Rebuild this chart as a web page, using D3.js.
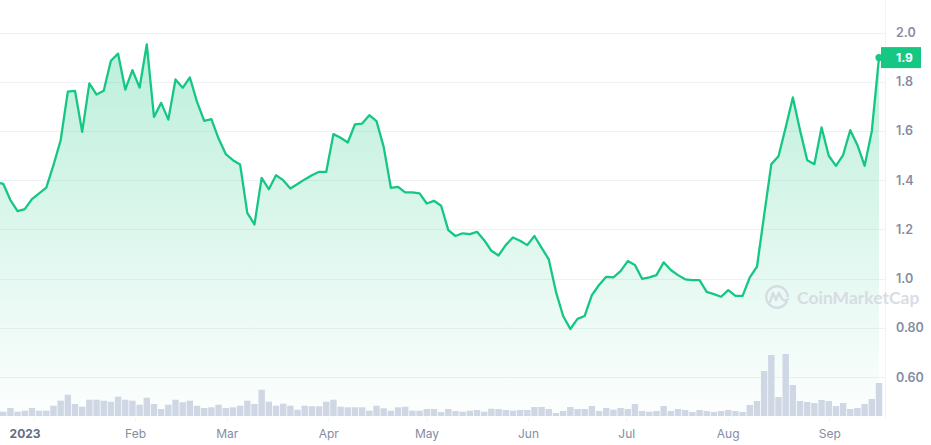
<!DOCTYPE html>
<html>
<head>
<meta charset="utf-8">
<script src="https://cdn.jsdelivr.net/npm/d3@7/dist/d3.min.js"></script>
<style>
  html, body { margin: 0; padding: 0; background: #fff; }
  svg { display: block; }
</style>
</head>
<body>
<svg id="chart" width="931" height="445"></svg>
<script>
// ---------------- DATA ----------------
const firstDate = new Date(2022, 11, 20, 13);
const lastDate = new Date(2023, 8, 16, 5);

const prices = [
  1.392,
  1.385, 1.319, 1.274, 1.282, 1.323, 1.346, 1.370, 1.461, 1.562, 1.760,
  1.763, 1.596, 1.793, 1.748, 1.763, 1.885, 1.914, 1.768, 1.847, 1.776,
  1.952, 1.657, 1.714, 1.646, 1.809, 1.775, 1.817, 1.718, 1.641, 1.648,
  1.569, 1.506, 1.481, 1.464, 1.267, 1.220, 1.409, 1.363, 1.420, 1.400,
  1.366, 1.384, 1.403, 1.420, 1.434, 1.434, 1.587, 1.572, 1.553, 1.627,
  1.630, 1.664, 1.640, 1.535, 1.369, 1.373, 1.350, 1.350, 1.346, 1.305,
  1.316, 1.296, 1.197, 1.173, 1.184, 1.181, 1.190, 1.156, 1.113, 1.094,
  1.136, 1.167, 1.154, 1.136, 1.173, 1.125, 1.078, 0.946, 0.848, 0.795,
  0.836, 0.848, 0.933, 0.974, 1.007, 1.005, 1.030, 1.071, 1.055, 0.999,
  1.005, 1.014, 1.066, 1.035, 1.014, 0.997, 0.994, 0.994, 0.946, 0.937,
  0.926, 0.953, 0.930, 0.930, 1.005, 1.048, 1.258, 1.465, 1.497, 1.614,
  1.736, 1.603, 1.481, 1.465, 1.614, 1.499, 1.458, 1.502, 1.603, 1.542,
  1.458, 1.600, 1.898
];

// volume (millions USD, approximate)
const volumes = [
  5.0,
  4.3, 8.0, 4.3, 5.3, 8.0, 5.3, 5.3, 10.3, 15.3, 21.3,
  12.0, 9.3, 16.3, 16.3, 15.3, 14.3, 19.3, 16.3, 15.3, 11.3,
  18.3, 12.0, 7.0, 11.3, 16.3, 13.7, 15.3, 10.3, 8.0, 8.7,
  11.3, 8.0, 8.7, 10.3, 15.3, 12.0, 26.3, 14.3, 10.3, 12.3,
  10.3, 6.3, 10.3, 9.7, 9.7, 14.3, 16.3, 9.3, 8.7, 8.7,
  8.7, 5.3, 10.3, 7.7, 5.3, 8.7, 9.3, 5.3, 5.3, 7.0,
  7.0, 4.0, 7.0, 5.0, 4.3, 5.3, 6.0, 4.3, 7.3, 7.0,
  6.0, 5.3, 6.0, 6.0, 9.0, 9.0, 7.0, 3.0, 5.0, 9.0,
  7.0, 7.0, 10.0, 5.0, 8.0, 6.3, 8.0, 7.0, 12.0, 5.0,
  4.3, 5.0, 10.0, 5.0, 7.0, 6.0, 4.0, 6.0, 5.0, 4.0,
  5.0, 6.0, 5.0, 4.0, 11.0, 15.0, 45.0, 61.0, 19.0, 62.0,
  31.0, 15.0, 14.0, 13.0, 16.0, 15.0, 10.0, 13.0, 7.0, 8.0,
  12.0, 17.0, 33.0
];

const priceTicks = [0.6, 0.8, 1.0, 1.2, 1.4, 1.6, 1.8, 2.0];
const priceTickLabels = ["0.60", "0.80", "1.0", "1.2", "1.4", "1.6", "1.8", "2.0"];
const monthTicks = [
  new Date(2023, 0, 1), new Date(2023, 1, 1), new Date(2023, 2, 1),
  new Date(2023, 3, 1), new Date(2023, 4, 1), new Date(2023, 5, 1),
  new Date(2023, 6, 1), new Date(2023, 7, 1), new Date(2023, 8, 1)
];
const monthLabels = ["2023", "Feb", "Mar", "Apr", "May", "Jun", "Jul", "Aug", "Sep"];
const currentLabel = "1.9";
const watermarkText = "CoinMarketCap";

// ---------------- LAYOUT ----------------
const W = 931, H = 445;
const plotLeft = 0, plotRight = 879, plotBottom = 418, gridRight = 885;
const green = "#16c784";

const step = (lastDate - firstDate) / (prices.length - 1);
const data = prices.map((p, i) => ({
  date: new Date(+firstDate + i * step),
  price: p,
  vol: volumes[i]
}));

const x = d3.scaleTime()
  .domain([new Date(2022, 11, 21, 18), lastDate])
  .range([plotLeft, plotRight]);
const y = d3.scaleLinear().domain([0.6, 2.0]).range([377, 32.5]);
const yVol = d3.scaleLinear().domain([0, 70]).range([416, 346]);

const svg = d3.select("#chart");
const defs = svg.append("defs");
const grad = defs.append("linearGradient")
  .attr("id", "areaGrad")
  .attr("gradientUnits", "userSpaceOnUse")
  .attr("x1", 0).attr("x2", 0).attr("y1", 30).attr("y2", plotBottom);
grad.append("stop").attr("offset", "0%").attr("stop-color", green).attr("stop-opacity", 0.30);
grad.append("stop").attr("offset", "60%").attr("stop-color", green).attr("stop-opacity", 0.12);
grad.append("stop").attr("offset", "100%").attr("stop-color", green).attr("stop-opacity", 0.01);

defs.append("clipPath").attr("id", "plotClip")
  .append("rect").attr("x", plotLeft).attr("y", 0)
  .attr("width", plotRight - plotLeft + 4).attr("height", plotBottom);

// gridlines
svg.append("g").selectAll("line").data(priceTicks).join("line")
  .attr("x1", plotLeft).attr("x2", gridRight)
  .attr("y1", d => Math.round(y(d)) + 0.5).attr("y2", d => Math.round(y(d)) + 0.5)
  .attr("stroke", "#eff2f5").attr("stroke-width", 1);

// right border line
svg.append("line")
  .attr("x1", gridRight + 0.5).attr("x2", gridRight + 0.5)
  .attr("y1", 0).attr("y2", plotBottom)
  .attr("stroke", "#f1f3f6").attr("stroke-width", 1);

const plot = svg.append("g").attr("clip-path", "url(#plotClip)");

// area
plot.append("path").datum(data)
  .attr("d", d3.area().x(d => x(d.date)).y0(plotBottom).y1(d => y(d.price)))
  .attr("fill", "url(#areaGrad)");

// watermark
const wm = svg.append("g").attr("opacity", 0.85);
const lx = 777, ly = 297;
wm.append("path")
  .attr("d", d3.arc()({ innerRadius: 9.5, outerRadius: 12, startAngle: Math.PI * 0.62, endAngle: Math.PI * 2.5 }))
  .attr("transform", `translate(${lx},${ly})`)
  .attr("fill", "#d3d8e0");
wm.append("path")
  .attr("d", `M${lx - 7},${ly + 5} L${lx - 4},${ly - 4} L${lx - 1},${ly + 3} L${lx + 2},${ly - 4} L${lx + 5},${ly + 2} Q${lx + 8},${ly + 5} ${lx + 11},${ly + 2}`)
  .attr("fill", "none").attr("stroke", "#d3d8e0").attr("stroke-width", 2.4)
  .attr("stroke-linejoin", "round").attr("stroke-linecap", "round");
wm.append("text")
  .attr("x", 797).attr("y", 304)
  .attr("font-family", "Lato, Inter, sans-serif")
  .attr("font-weight", 700).attr("font-size", 17.5)
  .attr("fill", "#d3d8e0")
  .text(watermarkText);

// volume bars
const barW = 6.4;
plot.append("g").selectAll("rect").data(data).join("rect")
  .attr("x", d => x(d.date) - barW / 2)
  .attr("y", d => yVol(d.vol))
  .attr("width", barW)
  .attr("height", d => yVol(0) - yVol(d.vol))
  .attr("fill", "#cfd6e4");

// line
plot.append("path").datum(data)
  .attr("d", d3.line().x(d => x(d.date)).y(d => y(d.price)))
  .attr("fill", "none").attr("stroke", green).attr("stroke-width", 2.3)
  .attr("stroke-linejoin", "round");

// last point dot
const last = data[data.length - 1];
svg.append("circle")
  .attr("cx", x(last.date)).attr("cy", y(last.price)).attr("r", 3.6)
  .attr("fill", green);

// y axis labels
const yAxis = d3.axisRight(y).tickValues(priceTicks)
  .tickFormat((d, i) => priceTickLabels[i]).tickSize(0).tickPadding(0);
const gy = svg.append("g").attr("transform", "translate(896,0)").call(yAxis);
gy.select(".domain").remove();
gy.selectAll("text")
  .attr("font-family", "Inter, sans-serif").attr("font-size", 12.5).attr("font-weight", 600)
  .attr("fill", "#858ca2");

// current price badge
svg.append("rect")
  .attr("x", 881).attr("y", y(last.price) - 10.5)
  .attr("width", 40).attr("height", 21).attr("fill", green);
svg.append("text")
  .attr("x", 896).attr("y", y(last.price)).attr("dy", "0.35em")
  .attr("font-family", "Inter, sans-serif").attr("font-size", 12).attr("font-weight", 700)
  .attr("fill", "#fff").text(currentLabel);

// x axis
const xAxis = d3.axisBottom(x).tickValues(monthTicks)
  .tickFormat((d, i) => monthLabels[i]).tickSize(3).tickPadding(8);
const gx = svg.append("g").attr("transform", `translate(0,${plotBottom})`).call(xAxis);
gx.select(".domain").remove();
gx.selectAll(".tick line").attr("stroke", "#eff2f5");
gx.selectAll("text")
  .attr("font-family", "Inter, sans-serif").attr("font-size", 12).attr("font-weight", 400)
  .attr("fill", "#858ca2");
gx.selectAll(".tick").filter((d, i) => i === 0).select("text")
  .attr("dx", -9).attr("font-weight", 700).attr("fill", "#616e85");
</script>
</body>
</html>
